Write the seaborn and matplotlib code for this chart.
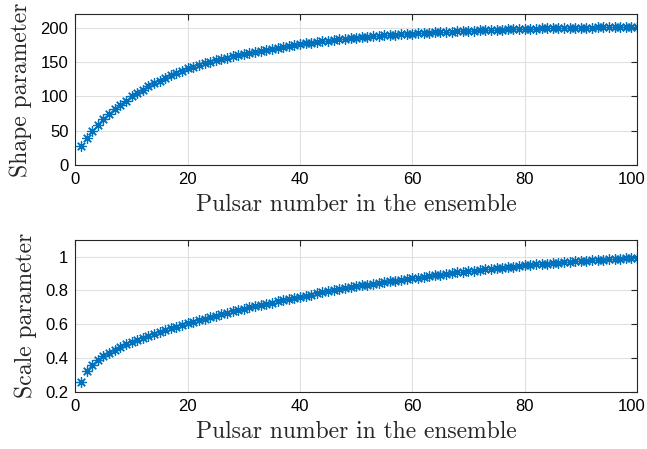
# Parámetros de forma y escala por púlsar del ensemble (estilo MATLAB)
import seaborn as sns
import matplotlib.pyplot as plt
import matplotlib.transforms as mtransforms
import numpy as np
import pandas as pd

pulsar = list(range(1, 101))

shape = [28, 40, 50, 59, 67, 75, 82, 88, 94, 100,
         105, 110, 115, 119, 123, 127, 131, 134, 137.5, 141,
         143.5, 145.9, 148.2, 150.4, 152.5, 154.6, 156.6, 158.5, 160.3, 162.0,
         163.7, 165.3, 166.8, 168.2, 169.6, 171.0, 172.3, 173.6, 174.8, 176.0,
         177.2, 178.3, 179.3, 180.3, 181.3, 182.2, 183.1, 184.0, 184.8, 185.5,
         186.3, 187.0, 187.7, 188.3, 188.9, 189.5, 190.1, 190.6, 191.1, 191.5,
         192.0, 192.5, 192.9, 193.3, 193.7, 194.1, 194.5, 194.8, 195.2, 195.5,
         195.9, 196.2, 196.5, 196.8, 197.1, 197.4, 197.7, 198.0, 198.3, 198.5,
         198.8, 199.0, 199.2, 199.4, 199.6, 199.7, 199.9, 200.0, 200.2, 200.3,
         200.4, 200.5, 200.6, 200.7, 200.8, 200.9, 201.0, 201.1, 201.2, 201.3]

scale = [0.256, 0.320, 0.360, 0.388, 0.410, 0.430, 0.448, 0.464, 0.480, 0.494,
         0.506, 0.518, 0.530, 0.542, 0.553, 0.564, 0.575, 0.585, 0.595, 0.605,
         0.614, 0.623, 0.632, 0.641, 0.650, 0.659, 0.667, 0.676, 0.684, 0.692,
         0.699, 0.707, 0.714, 0.721, 0.728, 0.735, 0.742, 0.749, 0.755, 0.762,
         0.769, 0.775, 0.782, 0.788, 0.795, 0.801, 0.807, 0.813, 0.818, 0.824,
         0.829, 0.834, 0.839, 0.844, 0.849, 0.854, 0.858, 0.863, 0.867, 0.872,
         0.876, 0.881, 0.885, 0.890, 0.894, 0.898, 0.902, 0.906, 0.909, 0.913,
         0.917, 0.920, 0.924, 0.927, 0.931, 0.934, 0.938, 0.941, 0.945, 0.948,
         0.951, 0.954, 0.956, 0.959, 0.962, 0.964, 0.967, 0.969, 0.972, 0.974,
         0.976, 0.978, 0.980, 0.982, 0.984, 0.986, 0.987, 0.989, 0.990, 0.992]

df = pd.DataFrame({"pulsar": pulsar, "shape": shape, "scale": scale})

sns.set_style("white")
plt.rcParams["font.family"] = ["Liberation Sans", "DejaVu Sans"]

azul = "#0072BD"
fig = plt.figure(figsize=(6.47, 4.49), dpi=100)
ax1 = fig.add_axes([0.1165, 0.6325, 0.868, 0.336])
ax2 = fig.add_axes([0.1165, 0.1276, 0.868, 0.3385])

paneles = [(ax1, "shape", "Shape parameter", (0, 220), [0, 50, 100, 150, 200], None),
           (ax2, "scale", "Scale parameter", (0.2, 1.1), [0.2, 0.4, 0.6, 0.8, 1.0],
            ["0.2", "0.4", "0.6", "0.8", "1"])]

# pequeño desplazamiento para que el "100" no se corte en el borde
desplaza = mtransforms.ScaledTranslation(-4 / 72, 0, fig.dpi_scale_trans)

for ax, col, ylab, ylim, yt, ytl in paneles:
    sns.lineplot(data=df, x="pulsar", y=col, ax=ax, color=azul, linestyle="none",
                 marker=(8, 2, 0), markersize=7.5, markeredgewidth=0.9,
                 markeredgecolor=azul)
    ax.set_xlim(0, 100)
    ax.set_ylim(*ylim)
    ax.set_xticks([0, 20, 40, 60, 80, 100])
    ax.set_yticks(yt)
    if ytl:
        ax.set_yticklabels(ytl)
    ax.grid(True, color="#e0e0e0", linewidth=0.8)
    ax.set_axisbelow(True)
    ax.tick_params(direction="in", length=4, width=0.8, top=True, right=True,
                   labelsize=12, colors="#262626", labelcolor="black", pad=5)
    for s in ax.spines.values():
        s.set_color("#262626")
        s.set_linewidth(0.8)
    ultima = ax.get_xticklabels()[-1]
    ultima.set_transform(ultima.get_transform() + desplaza)
    ax.set_xlabel("Pulsar number in the ensemble", fontfamily="cmr10",
                  fontsize=17, labelpad=5)
    ax.set_ylabel(ylab, fontfamily="cmr10", fontsize=17, labelpad=6)

plt.savefig("out.png", dpi=100)
